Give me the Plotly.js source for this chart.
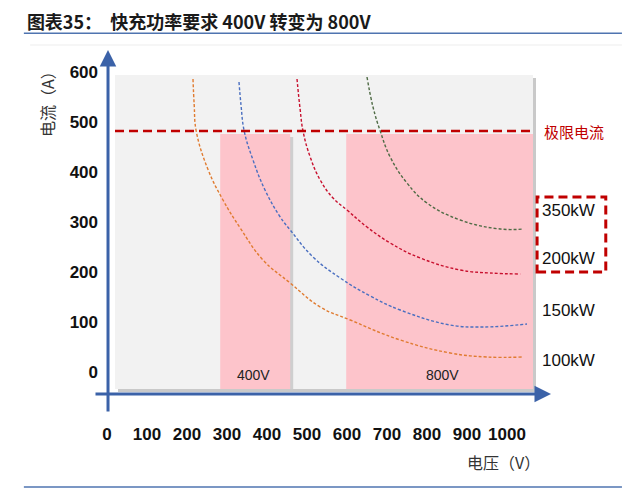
<!DOCTYPE html>
<html>
<head>
<meta charset="utf-8">
<script src="https://cdn.plot.ly/plotly-3.1.0.min.js"></script>
<style>
  html, body { margin: 0; padding: 0; background: #fff; }
  #chart { width: 640px; height: 495px; }
</style>
</head>
<body>
<div id="chart"></div>
<script>
// values (voltage V, current A)
const xTicks = [0, 100, 200, 300, 400, 500, 600, 700, 800, 900, 1000];
const yTicks = [0, 100, 200, 300, 400, 500, 600];

const v100 = [215, 218, 223, 253, 290, 333, 390, 458, 533, 608, 733, 858, 950, 1040];
const i100 = [586, 534, 482, 404, 344, 288, 224, 178, 130, 104, 64, 38, 30, 30];

const v150 = [330, 335, 343, 365, 395, 433, 458, 515, 583, 658, 733, 858, 940, 1050];
const i150 = [580, 534, 482, 424, 364, 310, 284, 230, 188, 152, 124, 94, 90, 96];

const v200 = [475, 483, 490, 508, 533, 565, 600, 650, 708, 783, 883, 958, 1033];
const i200 = [586, 524, 482, 430, 384, 348, 324, 290, 258, 228, 204, 198, 196];

const v350 = [650, 665, 683, 708, 750, 800, 883, 983, 1040];
const i350 = [590, 530, 482, 430, 378, 338, 304, 286, 286];

const limitX = [20, 1058];
const limitI = 482;

const panelX = [20, 1065];
const panelY = [-34, 594];
const band400 = [283, 458];
const band800 = [598, 1065];
const bandTop = 476;

const powerLabels = ["350kW", "200kW", "150kW", "100kW"];
const powerLabelY = [324, 228, 124, 24];

const blue = "#3B62A8";
const darkRed = "#C00000";

function curve(x, y, color) {
  return {
    type: "scatter", mode: "lines", x: x, y: y, hoverinfo: "skip",
    line: { color: color, width: 1.4, dash: "3px,2px", shape: "spline", smoothing: 1.2 }
  };
}

const traces = [
  curve(v100, i100, "#E07B30"),
  curve(v150, i150, "#4A6FC0"),
  curve(v200, i200, "#C8102E"),
  curve(v350, i350, "#4F6B45"),
  {
    type: "scatter", mode: "lines", x: limitX, y: [limitI, limitI], hoverinfo: "skip",
    line: { color: darkRed, width: 2.5, dash: "9px,5px" }
  }
];

function rect(x0, x1, y0, y1, color) {
  return { type: "rect", xref: "x", yref: "y", x0: x0, x1: x1, y0: y0, y1: y1,
           fillcolor: color, line: { width: 0 }, layer: "below" };
}
// shadow offsets: about 3px in data units
const sx = 7.5, sy = 6;

const shapes = [
  rect(panelX[0] + sx, panelX[1] + sx, panelY[0] - sy, panelY[1] - sy, "#C9C9C9"),
  rect(panelX[0], panelX[1], panelY[0], panelY[1], "#F2F2F2"),
  rect(band400[0] + sx, band400[1] + sx, panelY[0], bandTop - sy, "#CFCFCF"),
  rect(band400[0], band400[1], panelY[0], bandTop, "#FDC4CB"),
  rect(band800[0], band800[1], panelY[0], bandTop, "#FDC4CB"),
  // title rules
  { type: "line", xref: "paper", yref: "paper", x0: -0.174, x1: 1.158, y0: 1.049, y1: 1.049,
    line: { color: "#4F74B0", width: 1.5 } },
  { type: "line", xref: "paper", yref: "paper", x0: -0.160, x1: 1.158, y0: 1.0145, y1: 1.0145,
    line: { color: "#EDEDED", width: 1 } },
  { type: "line", xref: "paper", yref: "paper", x0: -0.174, x1: 1.158, y0: -0.270, y1: -0.270,
    line: { color: "#4F74B0", width: 1.5 } },
  // dashed box round 350kW / 200kW
  { type: "rect", xref: "paper", yref: "paper", x0: 0.969, x1: 1.122, y0: 0.355, y1: 0.573,
    line: { color: darkRed, width: 3, dash: "9px,5px" } }
];

const annotations = [
  // axis arrows
  { xref: "paper", yref: "paper", x: 1, y: 0, ax: -457, ay: 0, axref: "pixel", ayref: "pixel",
    text: "", showarrow: true, arrowhead: 2, arrowsize: 1.1, arrowwidth: 3, arrowcolor: blue, standoff: 0 },
  { xref: "paper", yref: "paper", x: 0.0134, y: 1, ax: 0, ay: 363, axref: "pixel", ayref: "pixel",
    text: "", showarrow: true, arrowhead: 2, arrowsize: 1.1, arrowwidth: 3, arrowcolor: blue, standoff: 0 },
  { xref: "paper", yref: "paper", x: -0.1225, y: 0.855, xanchor: "center", yanchor: "middle",
    text: "电流（A）", textangle: -90, showarrow: false,
    font: { family: "Noto Sans CJK SC", size: 16, color: "#333" } },
  { xref: "paper", yref: "paper", x: 0.895, y: -0.198, xanchor: "center", yanchor: "middle",
    text: "电压（V）", showarrow: false,
    font: { family: "Noto Sans CJK SC", size: 16, color: "#333" } },
  { xref: "x", yref: "y", x: 365, y: -6, text: "400V", showarrow: false,
    font: { family: "Liberation Sans", size: 14, color: "#222" } },
  { xref: "x", yref: "y", x: 838, y: -6, text: "800V", showarrow: false,
    font: { family: "Liberation Sans", size: 14, color: "#222" } },
  { xref: "x", yref: "y", x: 1088, y: limitI, xanchor: "left", text: "极限电流", showarrow: false,
    font: { family: "Noto Sans CJK SC", size: 15, color: darkRed } }
];
powerLabels.forEach((t, k) => {
  annotations.push({ xref: "x", yref: "y", x: 1082, y: powerLabelY[k], xanchor: "left",
    text: t, showarrow: false, font: { family: "Liberation Sans", size: 17, color: "#111" } });
});

const tickFont = { family: "Liberation Sans", size: 17, color: "#111", weight: "bold" };

const layout = {
  width: 640, height: 495,
  margin: { l: 102, r: 89, t: 50, b: 101 },
  paper_bgcolor: "#fff", plot_bgcolor: "#fff",
  showlegend: false,
  title: {
    text: "<b>图表35：  快充功率要求 400V 转变为 800V</b>",
    xref: "container", yref: "container", x: 0.042, xanchor: "left", y: 0.954, yanchor: "middle",
    font: { family: "Noto Sans CJK SC", size: 18, color: "#1a1a1a" }
  },
  xaxis: {
    range: [-12.5, 1110], tickvals: xTicks, ticks: "", showgrid: false, zeroline: false,
    showline: false, tickfont: tickFont, ticklabelstandoff: 28, fixedrange: true
  },
  yaxis: {
    range: [-44, 644], tickvals: yTicks, ticks: "", showgrid: false, zeroline: false,
    showline: false, tickfont: tickFont, ticklabelstandoff: 3, fixedrange: true
  },
  shapes: shapes,
  annotations: annotations
};

Plotly.newPlot("chart", traces, layout, { displayModeBar: false, staticPlot: true });
</script>
</body>
</html>
